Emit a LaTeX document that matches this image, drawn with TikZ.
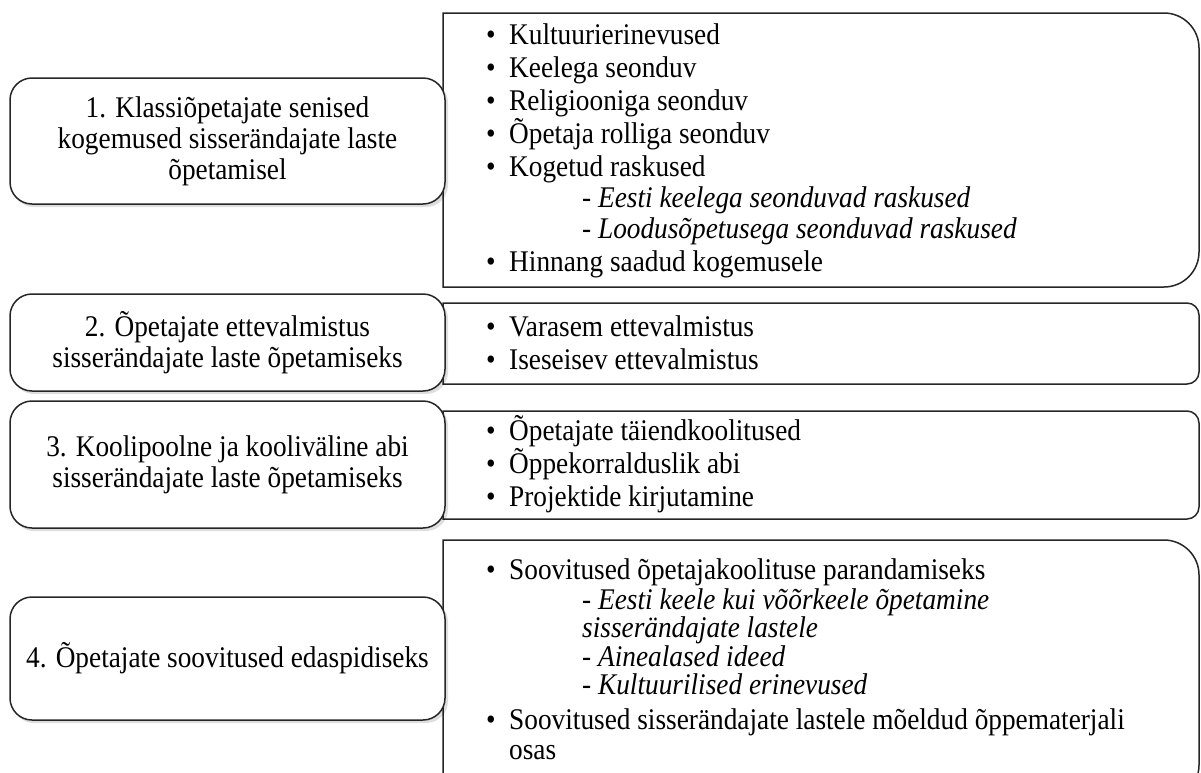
\documentclass[tikz,border=0pt]{standalone}
\usepackage{fontspec}
\setmainfont{Liberation Serif}[FakeStretch=0.91]
\begin{document}
\begin{tikzpicture}[x=1pt,y=-1pt,
  frame/.style={draw=black!85, line width=1.5pt, fill=white},
  leftbox/.style={frame, rounded corners=22pt, minimum width=435pt, align=center, inner sep=0pt, font=\fontsize{30}{31}\selectfont},
  shadowbox/.style={fill=black, opacity=0.13, rounded corners=22pt},
  itemtext/.style={anchor=base west, inner sep=0pt, font=\fontsize{30}{30}\selectfont},
  subtext/.style={anchor=base west, inner sep=0pt, font=\fontsize{30}{30}\selectfont\itshape},
  bul/.style={anchor=base west, inner sep=0pt, font=\fontsize{30}{30}\selectfont}]
\useasboundingbox (0,0) rectangle (1201,772);
\begin{scope}
\clip (0,0) rectangle (1201,772);
% right boxes
\draw[frame] (443,13) -- (1164,13) .. controls (1183.3,13) and (1199,28.7) .. (1199,48)
  -- (1199,252) .. controls (1199,271.3) and (1183.3,287) .. (1164,287) -- (443,287) -- cycle;
\draw[frame] (443,303) -- (1187,303) .. controls (1193.6,303) and (1199,308.4) .. (1199,315)
  -- (1199,372) .. controls (1199,378.6) and (1193.6,384) .. (1187,384) -- (443,384) -- cycle;
\draw[frame] (443,411) -- (1187,411) .. controls (1193.6,411) and (1199,416.4) .. (1199,423)
  -- (1199,507) .. controls (1199,513.6) and (1193.6,519) .. (1187,519) -- (443,519) -- cycle;
\draw[frame] (443,540) -- (1164,540) .. controls (1183.3,540) and (1199,555.7) .. (1199,575)
  -- (1199,765) .. controls (1199,784.3) and (1183.3,800) .. (1164,800) -- (443,800) -- cycle;
% shadows of left boxes
\fill[shadowbox] (12,81) rectangle (448,207);
\fill[shadowbox] (12,297) rectangle (448,394);
\fill[shadowbox] (12,404) rectangle (448,531);
\fill[shadowbox] (12,600) rectangle (448,723);
% left boxes
\node[leftbox, minimum height=126pt] (l1) at (227.5,141) {1. Klassiõpetajate senised\\kogemused sisserändajate laste\\õpetamisel};
\node[leftbox, minimum height=97pt] (l2) at (227.5,342.5) {2. Õpetajate ettevalmistus\\sisserändajate laste õpetamiseks};
\node[leftbox, minimum height=127pt] (l3) at (227.5,464.5) {3. Koolipoolne ja kooliväline abi\\sisserändajate laste õpetamiseks};
\node[leftbox, minimum height=123pt] (l4) at (227.5,658.5) {4. Õpetajate soovitused edaspidiseks};
% box 1 items
\node[bul] (b1a) at (486,44) {•}; \node[itemtext] (t1a) at (509,44) {Kultuurierinevused};
\node[bul] (b1b) at (486,77) {•}; \node[itemtext] (t1b) at (509,77) {Keelega seonduv};
\node[bul] (b1c) at (486,110) {•}; \node[itemtext] (t1c) at (509,110) {Religiooniga seonduv};
\node[bul] (b1d) at (486,143) {•}; \node[itemtext] (t1d) at (509,143) {Õpetaja rolliga seonduv};
\node[bul] (b1e) at (486,176) {•}; \node[itemtext] (t1e) at (509,176) {Kogetud raskused};
\node[subtext] (s1a) at (582,207) {- Eesti keelega seonduvad raskused};
\node[subtext] (s1b) at (582,238) {- Loodusõpetusega seonduvad raskused};
\node[bul] (b1f) at (486,271) {•}; \node[itemtext] (t1f) at (509,271) {Hinnang saadud kogemusele};
% box 2 items
\node[bul] (b2a) at (486,336) {•}; \node[itemtext] (t2a) at (509,336) {Varasem ettevalmistus};
\node[bul] (b2b) at (486,369) {•}; \node[itemtext] (t2b) at (509,369) {Iseseisev ettevalmistus};
% box 3 items
\node[bul] (b3a) at (486,440) {•}; \node[itemtext] (t3a) at (509,440) {Õpetajate täiendkoolitused};
\node[bul] (b3b) at (486,473) {•}; \node[itemtext] (t3b) at (509,473) {Õppekorralduslik abi};
\node[bul] (b3c) at (486,506) {•}; \node[itemtext] (t3c) at (509,506) {Projektide kirjutamine};
% box 4 items
\node[bul] (b4a) at (486,579) {•}; \node[itemtext] (t4a) at (509,579) {Soovitused õpetajakoolituse parandamiseks};
\node[subtext] (s4a) at (582,609) {- Eesti keele kui võõrkeele õpetamine};
\node[subtext] (s4b) at (582,637) {sisserändajate lastele};
\node[subtext] (s4c) at (582,666) {- Ainealased ideed};
\node[subtext] (s4d) at (582,694) {- Kultuurilised erinevused};
\node[bul] (b4b) at (486,729) {•}; \node[itemtext] (t4b) at (509,729) {Soovitused sisserändajate lastele mõeldud õppematerjali};
\node[itemtext] (t4c) at (509,759) {osas};
\end{scope}
\end{tikzpicture}
\end{document}
